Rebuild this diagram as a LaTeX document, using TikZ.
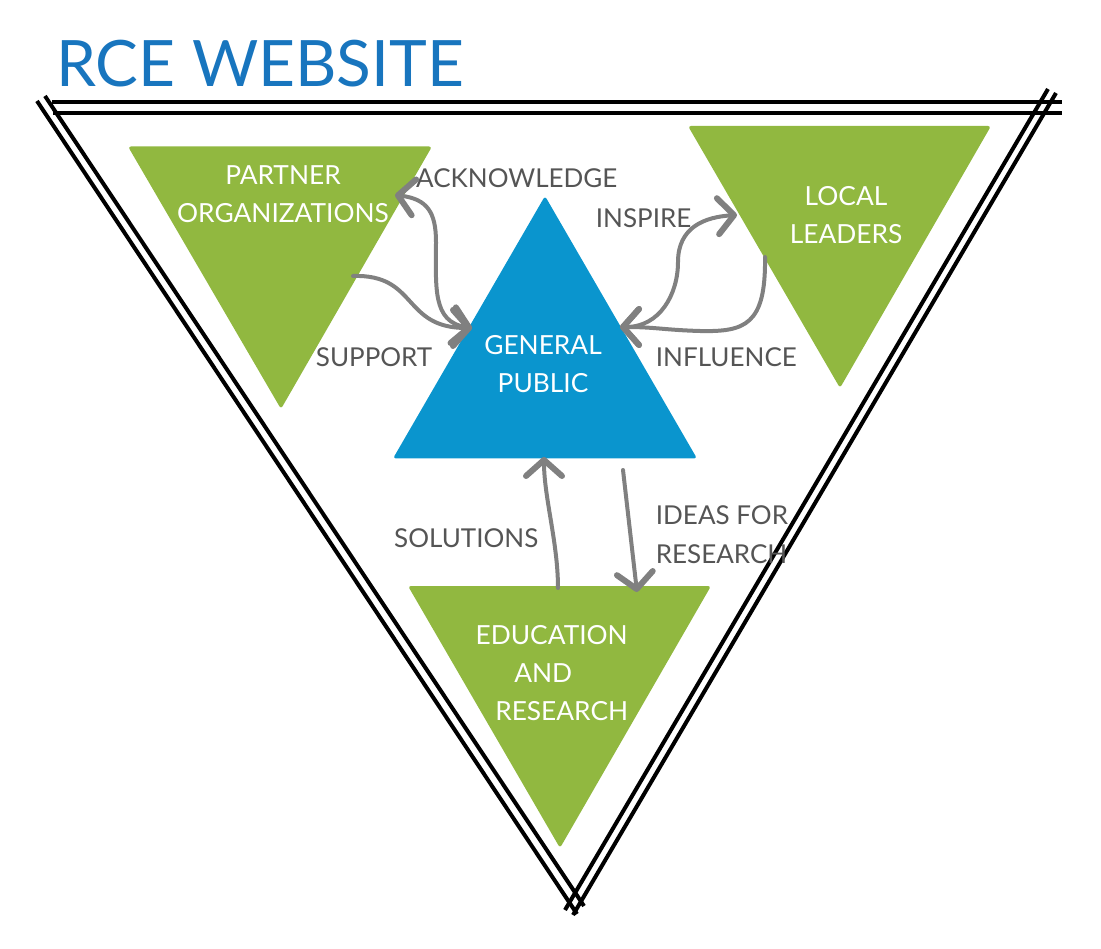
\documentclass[tikz,border=0pt]{standalone}
\usepackage{fontspec}
\setmainfont{Lato}
\usetikzlibrary{arrows.meta}
\definecolor{leaf}{RGB}{145,184,64}
\definecolor{sky}{RGB}{10,149,206}
\definecolor{titleblue}{RGB}{24,117,190}
\definecolor{labelgray}{RGB}{85,85,85}
\definecolor{arrowgray}{RGB}{128,128,128}
\tikzset{
  frame/.style={draw=black, line width=4pt},
  greentri/.style={fill=leaf, rounded corners=3pt},
  bluetri/.style={fill=sky, rounded corners=3pt},
  inner/.style={text=white, inner sep=0pt, align=center, font=\fontsize{26.3}{38}\selectfont},
  lbl/.style={text=labelgray, inner sep=0pt, anchor=base west, font=\fontsize{26}{38}\selectfont},
  tip/.style={},
  flow/.style={draw=arrowgray, line width=4pt, line cap=round,
    -{Straight Barb[length=16pt, width=36pt, line width=6pt, round]}},
  flowboth/.style={draw=arrowgray, line width=4pt, line cap=round,
    {Straight Barb[length=16pt, width=36pt, line width=6pt, round]}-{Straight Barb[length=16pt, width=36pt, line width=6pt, round]}}
}
\begin{document}
\begin{tikzpicture}[x=1pt, y=-1pt]
\useasboundingbox (0,0) rectangle (1101,949);

% title
\node[text=titleblue, inner sep=0pt, anchor=base west, font=\fontsize{64}{70}\selectfont] (title) at (56,86.7) {RCE WEBSITE};

% outer double-lined triangle (sketch style, crossing at corners)
\draw[frame] (52,102.5) -- (1062,102.5);
\draw[frame] (53,113) -- (1062,113);
\draw[frame] (37,101) -- (577,914);
\draw[frame] (45,96) -- (584,906);
\draw[frame] (1048,89) -- (565,910);
\draw[frame] (1056,93) -- (573,915);

% the four triangles
\fill[greentri] (128,146.5) -- (432,146.5) -- (281,409) -- cycle;
\fill[greentri] (688,126) -- (991,126) -- (840,388) -- cycle;
\fill[greentri] (408,586) -- (711,586) -- (560,848) -- cycle;
\fill[bluetri] (545,196) -- (697,458.5) -- (393,458.5) -- cycle;

% texts inside the triangles
\node[inner] (partner) at (283,194.5) {PARTNER\\ORGANIZATIONS};
\node[inner] (leaders) at (846,215) {LOCAL\\LEADERS};
\node[inner] (public) at (543,364.2) {GENERAL\\PUBLIC};
\node[inner] (research) at (551.7,672.8) {EDUCATION\\\hspace*{-17pt}AND\\\hspace*{20pt}RESEARCH};

% connector end points
\coordinate (poOut) at (353,276);
\coordinate (poAck) at (395,195);
\coordinate (gpL) at (472,328);
\coordinate (gpR) at (620,327);
\coordinate (llIn) at (737,215);
\coordinate (llOut) at (765,257);
\coordinate (gpB1) at (544,457);
\coordinate (gpB2) at (623,470);
\coordinate (erTop1) at (558,588);
\coordinate (erTop2) at (637,592);

% connectors
\draw[flow] (poOut) .. controls +(65,-2) and +(-70,0) .. (gpL);
\draw[flowboth] (poAck) .. controls +(32,4) and +(0,-30) .. (436,242)
  .. controls +(0,45) and +(-40,-6) .. (gpL);
\draw[flowboth] (gpR) .. controls +(40,0) and +(0,32) .. (678,262)
  .. controls +(0,-35) and +(-32,2) .. (llIn);
\draw[flow] (llOut) .. controls +(1,68) and +(45,1) .. (700,331)
  .. controls +(-35,-1) and +(35,0) .. (gpR);
\draw[flow] (erTop1) .. controls +(0,-45) and +(0,40) .. (gpB1);
\draw[flow] (gpB2) -- (erTop2);

% connector labels
\node[lbl] (ack) at (416,187.7) {ACKNOWLEDGE};
\node[lbl] (insp) at (595.7,227.5) {INSPIRE};
\node[lbl] (infl) at (655.7,366.7) {INFLUENCE};
\node[lbl] (supp) at (315.7,366.7) {SUPPORT};
\node[lbl] (sol) at (394,547.7) {SOLUTIONS};
\node[lbl] (ideas) at (655.7,525) {IDEAS FOR};
\node[lbl] (ideas2) at (655.7,563.3) {RESEARCH};
\end{tikzpicture}
\end{document}
